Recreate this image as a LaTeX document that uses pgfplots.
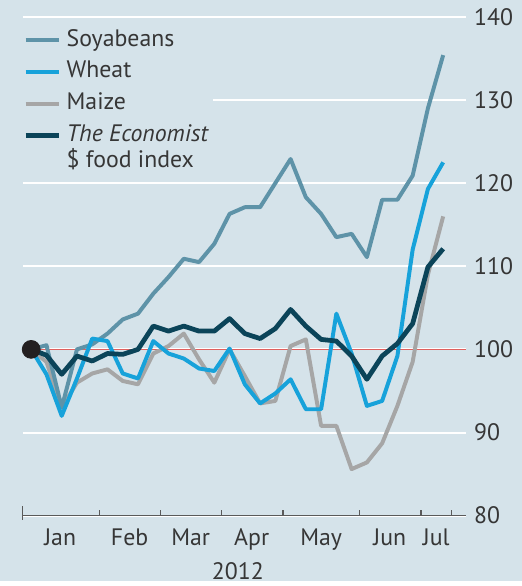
\documentclass[border=0pt]{standalone}
\usepackage{fontspec}
\setmainfont{PT Sans}
\usepackage{pgfplots}
\pgfplotsset{compat=1.18}
\usetikzlibrary{backgrounds}
\definecolor{bg}{HTML}{D5E3EA}
\definecolor{soy}{HTML}{5E93A8}
\definecolor{wheat}{HTML}{17A2DA}
\definecolor{maize}{HTML}{A6A6A6}
\definecolor{foodidx}{HTML}{0B4459}
\definecolor{refred}{HTML}{E0605E}
\definecolor{axisgrey}{HTML}{5A5A5A}
\definecolor{textgrey}{HTML}{363636}
\definecolor{dot}{HTML}{231F20}

% weekly index, first week of 2012 = 100
\pgfplotstableread{
wk soy   wheat maize food
0  100   100   100   100
1  100.5 97    98.5  99.3
2  93    92    93    97
3  100   96.5  96    99.2
4  100.6 101.3 97.1  98.6
5  101.9 101   97.6  99.5
6  103.6 97.1  96.2  99.4
7  104.3 96.5  95.8  100
8  106.7 101   99.5  102.8
9  108.7 99.5  100.4 102.2
10 110.9 98.9  101.9 102.8
11 110.5 97.7  98.8  102.2
12 112.7 97.4  96    102.2
13 116.3 100.1 100   103.7
14 117.1 95.8  96.8  101.9
15 117.1 93.5  93.5  101.3
16 120   94.7  93.8  102.5
17 122.9 96.4  100.4 104.8
18 118.3 92.8  101.2 102.8
19 116.3 92.8  90.8  101.2
20 113.5 104.3 90.8  101
21 113.9 99.5  85.6  99.2
22 111.1 93.2  86.4  96.4
23 118   93.8  88.7  99.2
24 118   99.2  93.2  100.7
25 120.9 112   98.5  103.1
26 129   119.3 109   109.9
27 135.4 122.5 116   112.1
}\prices

\begin{document}
\begin{tikzpicture}[font=\fontsize{12}{12.5}\selectfont]
\begin{axis}[
  scale only axis,
  width=223.5pt, height=251.5pt,
  xmin=-0.55, xmax=28.5,
  ymin=80, ymax=140,
  axis x line*=bottom,
  axis y line*=right,
  y axis line style={draw=none},
  x axis line style={draw=axisgrey, line width=0.8pt},
  xtick={4.45,8.45,12.45,16.5,21.5,25.55,27.55},
  xticklabels={},
  minor xtick={-0.55},
  xtick align=inside,
  major tick length=3pt,
  minor tick length=7pt,
  every tick/.style={draw=axisgrey, line width=0.6pt},
  every minor tick/.append style={yshift=-2pt},
  extra x ticks={1.9,6.45,10.45,14.45,19,23.5,26.55},
  extra x tick labels={Jan,Feb,Mar,Apr,May,Jun,Jul},
  extra x tick style={major tick length=0pt},
  xticklabel style={anchor=base, yshift=-15pt},
  ytick={80,90,...,140},
  ytick style={draw=none},
  ymajorgrids,
  major grid style={white, line width=1pt},
  yticklabel style={anchor=west, xshift=0.5pt},
  tick label style={text=textgrey, font=\fontsize{12}{12.5}\selectfont},
  /pgf/number format/assume math mode=true,
  xlabel={2012},
  xlabel style={at={(axis description cs:0.485,0)}, anchor=base, yshift=-32pt, text=textgrey},
  legend cell align=left,
  legend image code/.code={\draw[#1] (0pt,0pt) -- (17pt,0pt);},
  legend style={at={(0,1)}, anchor=north west, yshift=-4pt,
    draw=none, fill=bg, inner sep=0pt, row sep=1pt, column sep=0.5pt,
    nodes={text height=8.5pt, text depth=2.5pt, inner sep=2pt, text=textgrey},
    font=\fontsize{12}{12.5}\selectfont},
  line join=round,
]
\addplot[refred, line width=0.75pt, forget plot] coordinates {(-0.55,100) (28.5,100)};
\addplot[maize, line width=2pt, forget plot] table[x=wk, y=maize] {\prices};
\addplot[soy, line width=2pt, forget plot] table[x=wk, y=soy] {\prices};
\addplot[wheat, line width=2pt, forget plot] table[x=wk, y=wheat] {\prices};
\addplot[foodidx, line width=2.4pt, forget plot] table[x=wk, y=food] {\prices};
\addplot[only marks, mark=*, mark size=4.5pt, mark options={fill=dot, draw=dot}, forget plot] coordinates {(0,100)};

\addlegendimage{soy, line width=2pt}
\addlegendentry{Soyabeans}
\addlegendimage{wheat, line width=2pt}
\addlegendentry{Wheat}
\addlegendimage{maize, line width=2pt}
\addlegendentry{Maize}
\addlegendimage{foodidx, line width=2.4pt}
\addlegendentry{\begin{tabular}[t]{@{}l@{}}\textit{The Economist}\\\$ food index\end{tabular}}
\end{axis}
\begin{scope}[on background layer]
\fill[bg] ([shift={(-11.5pt,-33pt)}]current axis.south west) rectangle ([shift={(28pt,8.5pt)}]current axis.north east);
\end{scope}
\end{tikzpicture}
\end{document}
